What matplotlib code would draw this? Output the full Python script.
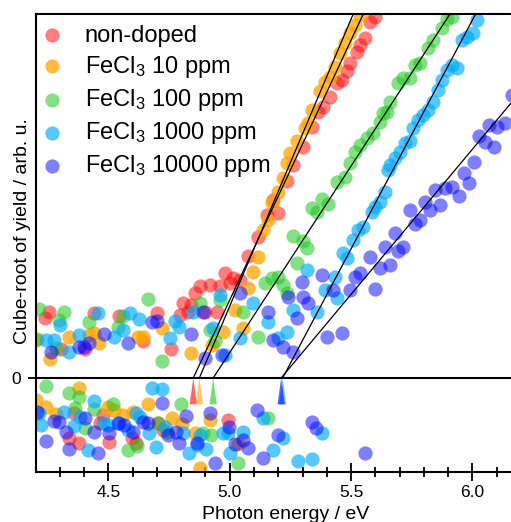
import matplotlib
matplotlib.use('Agg')
import matplotlib.pyplot as plt
from matplotlib.ticker import MultipleLocator

plt.rcParams['font.family'] = ['Liberation Sans', 'DejaVu Sans']
plt.rcParams['mathtext.fontset'] = 'custom'
plt.rcParams['mathtext.rm'] = 'Liberation Sans'
plt.rcParams['mathtext.it'] = 'Liberation Sans:italic'

# (photon energy / eV, cube-root of yield)
red_pts = [(4.240, 0.66), (4.256, 0.73), (4.305, 0.32), (4.338, -0.66), (4.359, -0.38),
           (4.379, -0.71), (4.404, 0.32), (4.442, 0.71), (4.466, -0.49), (4.478, -0.41),
           (4.503, -0.70), (4.545, 0.68), (4.598, -0.66), (4.614, -0.71), (4.643, 0.41),
           (4.701, 0.71), (4.705, -0.49), (4.726, -0.57), (4.759, 0.32), (4.795, 0.69),
           (4.808, 0.82), (4.829, 0.73), (4.840, 0.80), (4.857, 0.93), (4.878, 1.01),
           (4.898, 0.73), (4.919, 1.02), (4.948, 0.73), (4.960, 1.01), (4.981, 1.15),
           (4.994, -0.46), (5.000, 1.04), (5.014, 1.10), (5.043, 1.08), (5.077, 1.34),
           (5.117, 1.55), (5.154, 1.79), (5.178, 1.96), (5.199, 1.81), (5.236, 2.16),
           (5.261, 2.34), (5.302, 2.54), (5.339, 2.76), (5.364, 2.92), (5.385, 2.98),
           (5.413, 3.09), (5.442, 3.24), (5.463, 3.27), (5.484, 3.37), (5.496, 3.46),
           (5.525, 3.58), (5.537, 3.66), (5.558, 3.74), (5.578, 3.91), (5.599, 3.97)]

orange_pts = [(4.202, 0.42), (4.204, -0.24), (4.243, -0.32), (4.260, 0.21), (4.284, -0.40),
              (4.338, 0.45), (4.379, -0.11), (4.420, 0.47), (4.441, 0.49), (4.462, 0.38),
              (4.500, -0.32), (4.524, -0.35), (4.561, -0.41), (4.602, -0.37), (4.623, 0.45),
              (4.643, 0.45), (4.664, -0.29), (4.722, 0.55), (4.763, -0.44), (4.804, -0.51),
              (4.841, 0.27), (4.857, -0.60), (4.878, -0.99), (4.919, -0.46), (4.927, 0.36),
              (4.972, 0.51), (5.021, 0.75), (5.035, -0.73), (5.054, 0.55), (5.075, 0.99),
              (5.096, 1.16), (5.117, 1.33), (5.137, 1.63), (5.158, 1.74), (5.174, 1.92),
              (5.199, 2.04), (5.219, 2.20), (5.236, 2.36), (5.248, 2.47), (5.277, 2.60),
              (5.310, 2.75), (5.322, 2.80), (5.339, 2.95), (5.372, 3.15), (5.392, 3.25),
              (5.413, 3.31), (5.434, 3.42), (5.454, 3.57), (5.475, 3.68), (5.496, 3.79),
              (5.517, 3.88), (5.537, 3.99)]

green_pts = [(4.205, 0.43), (4.214, 0.76), (4.243, -0.09), (4.285, 0.33), (4.297, 0.64),
             (4.317, 0.73), (4.338, -0.16), (4.363, -0.33), (4.379, -0.21), (4.404, -0.55),
             (4.420, 0.62), (4.441, -0.34), (4.520, -0.29), (4.540, 0.56), (4.561, 0.68),
             (4.582, -0.79), (4.619, -0.75), (4.664, 0.87), (4.705, -0.49), (4.722, 0.19),
             (4.742, -0.59), (4.800, -0.29), (4.878, 0.82), (4.891, -0.60), (4.919, 0.53),
             (4.921, -0.63), (4.940, 0.41), (4.960, 0.86), (5.035, -0.93), (5.054, 0.73),
             (5.116, 0.45), (5.145, 1.04), (5.158, -0.44), (5.174, 1.10), (5.199, 1.11),
             (5.220, 1.02), (5.236, 0.93), (5.261, 1.56), (5.277, 1.26), (5.302, 1.51),
             (5.318, 1.43), (5.339, 1.87), (5.360, 1.82), (5.380, 1.97), (5.405, 1.91),
             (5.442, 2.15), (5.475, 2.21), (5.496, 2.36), (5.517, 2.48), (5.537, 2.56),
             (5.566, 2.64), (5.591, 2.69), (5.620, 2.81), (5.632, 2.91), (5.648, 2.92),
             (5.661, 3.03), (5.694, 3.24), (5.715, 3.30), (5.743, 3.30), (5.764, 3.44),
             (5.784, 3.46), (5.817, 3.63), (5.838, 3.71), (5.875, 3.85), (5.896, 3.95),
             (5.917, 3.97)]

blue_pts = [(4.214, -0.38), (4.222, -0.52), (4.243, 0.42), (4.276, 0.42), (4.300, 0.58),
            (4.317, -0.37), (4.338, 0.29), (4.359, -0.53), (4.379, 0.47), (4.383, -0.43),
            (4.417, -0.79), (4.441, -0.25), (4.458, 0.71), (4.478, -0.49), (4.499, -0.52),
            (4.524, 0.45), (4.545, -0.49), (4.561, 0.53), (4.582, -0.57), (4.590, 0.71),
            (4.615, -0.38), (4.627, 0.65), (4.630, -0.43), (4.668, -0.60), (4.681, -0.11),
            (4.697, -0.76), (4.722, -0.12), (4.734, -0.54), (4.754, 0.44), (4.775, 0.63),
            (4.791, 0.56), (4.808, -0.60), (4.833, -0.82), (4.849, 0.73), (4.866, -0.74),
            (4.878, -0.63), (4.903, -0.78), (4.931, 0.55), (4.960, 0.91), (4.973, -0.60),
            (4.981, 0.25), (4.993, -0.60), (5.000, -0.82), (5.043, 0.44), (5.056, -0.59),
            (5.096, 0.82), (5.137, -0.44), (5.158, 0.62), (5.179, -0.79), (5.199, 0.44),
            (5.220, -0.66), (5.236, 0.51), (5.261, 0.75), (5.281, -0.91), (5.318, 1.19),
            (5.339, -0.89), (5.359, 0.73), (5.380, -0.60), (5.392, 0.97), (5.434, 1.11),
            (5.442, 0.88), (5.467, 1.37), (5.484, 1.32), (5.508, 1.52), (5.529, 1.63),
            (5.550, 1.66), (5.587, 1.82), (5.599, 1.88), (5.620, 1.93), (5.641, 2.04),
            (5.653, 2.29), (5.661, 2.34), (5.682, 2.42), (5.702, 2.48), (5.723, 2.58),
            (5.743, 2.60), (5.756, 2.75), (5.776, 2.84), (5.797, 2.89), (5.817, 2.95),
            (5.838, 3.03), (5.859, 3.16), (5.876, 3.27), (5.896, 3.38), (5.917, 3.44),
            (5.938, 3.41), (5.958, 3.71), (5.979, 3.75), (6.004, 3.79), (6.020, 3.93)]

purple_pts = [(4.206, -0.37), (4.243, -0.69), (4.264, 0.29), (4.276, -0.47), (4.297, -0.48),
              (4.326, -0.59), (4.338, -0.78), (4.379, 0.34), (4.400, 0.34), (4.402, -0.44),
              (4.420, 0.38), (4.441, -0.59), (4.458, -0.82), (4.483, 0.48), (4.503, -0.60),
              (4.540, -0.49), (4.565, -0.52), (4.582, 0.38), (4.602, -0.59), (4.643, -0.48),
              (4.665, -0.50), (4.681, 0.62), (4.701, 0.63), (4.722, -0.27), (4.746, -0.63),
              (4.779, -0.59), (4.791, -0.71), (4.820, -0.42), (4.841, 0.48), (4.866, -0.71),
              (4.890, 0.73), (4.898, 0.22), (4.919, -0.38), (4.940, -0.93), (4.968, 0.25),
              (4.998, -0.54), (5.023, -0.73), (5.043, 0.93), (5.056, -0.68), (5.077, -0.77),
              (5.114, -0.35), (5.137, -0.88), (5.158, 0.73), (5.179, 0.42), (5.199, -0.63),
              (5.220, 0.34), (5.240, 0.89), (5.261, 0.29), (5.277, 0.66), (5.298, 1.05),
              (5.302, 0.89), (5.323, 0.82), (5.339, -0.48), (5.355, -0.55), (5.380, 1.13),
              (5.401, 0.45), (5.425, 0.97), (5.463, 0.49), (5.496, 0.97), (5.517, 1.11),
              (5.537, 1.15), (5.558, -0.82), (5.579, 1.33), (5.599, 0.98), (5.620, 1.21),
              (5.641, 1.44), (5.661, 1.24), (5.682, 1.59), (5.694, 1.40), (5.715, 1.44),
              (5.743, 1.85), (5.764, 1.69), (5.784, 1.74), (5.805, 1.93), (5.825, 1.85),
              (5.846, 2.07), (5.866, 1.90), (5.887, 2.09), (5.915, 2.10), (5.944, 2.00),
              (5.964, 2.25), (5.985, 2.14), (6.006, 2.37), (6.026, 2.66), (6.051, 2.59),
              (6.067, 2.78), (6.088, 2.54), (6.100, 2.76), (6.133, 2.80), (6.162, 3.11)]

labels = ['non-doped', 'FeCl$_3$ 10 ppm', 'FeCl$_3$ 100 ppm',
          'FeCl$_3$ 1000 ppm', 'FeCl$_3$ 10000 ppm']
colors = ['#ff0000', '#ffa500', '#1ec81e', '#00aaff', '#0000ff']
alphas = [0.5, 0.75, 0.55, 0.65, 0.5]
series = [red_pts, orange_pts, green_pts, blue_pts, purple_pts]

# linear fits: threshold energy (eV) and slope
thresholds = [4.850, 4.875, 4.932, 5.218, 5.212]
slopes = [5.71, 6.31, 4.10, 5.03, 3.19]

fig = plt.figure(figsize=(5.11, 5.22), dpi=100)
ax = fig.add_axes([36 / 511, 50 / 522, 500 / 511, 458 / 522])

for pts, lab, c, a in zip(series, labels, colors, alphas):
    e = [p[0] for p in pts]
    y = [p[1] for p in pts]
    ax.scatter(e, y, s=105, color=c, alpha=a, linewidths=0, label=lab, zorder=2)

for e0, k, c in zip(thresholds, slopes, colors):
    ax.plot([e0, e0 + 4.3 / k], [0, 4.3], color='black', lw=0.9, zorder=3)
    hw = 0.015
    ax.fill([e0 - hw, e0, e0 + hw], [-0.29, 0, -0.29], color=c, alpha=0.6, lw=0, zorder=3)

ax.axhline(0, color='black', lw=1.5, zorder=4)

ax.set_xlim(4.202, 6.262)
ax.set_ylim(-1.033, 4.0)

for side in ['left', 'bottom', 'top']:
    ax.spines[side].set_linewidth(1.5)
ax.spines['right'].set_visible(False)

ax.xaxis.set_major_locator(MultipleLocator(0.5))
ax.xaxis.set_minor_locator(MultipleLocator(0.1))
ax.xaxis.set_major_formatter(plt.FormatStrFormatter('%.1f'))
ax.tick_params(axis='x', which='major', direction='inout', length=13, width=1.3,
               labelsize=12.5, pad=3)
ax.tick_params(axis='x', which='minor', direction='inout', length=6.5, width=1.3)
ax.set_yticks([0])
ax.set_yticklabels(['0'])
ax.tick_params(axis='y', which='major', direction='inout', length=12, width=1.3,
               labelsize=12.5, pad=4.5)

fig.text(286 / 511, 1 - 519 / 522, 'Photon energy / eV', ha='center', va='baseline',
         fontsize=14)
fig.text(26.7 / 511, 1 - 231 / 522, 'Cube-root of yield / arb. u.', rotation=90,
         rotation_mode='anchor', ha='center', va='baseline', fontsize=14)

ax.legend(loc='upper left', bbox_to_anchor=(0.008, 0.977), frameon=False, fontsize=17,
          borderpad=0, borderaxespad=0, handlelength=1.0, handletextpad=0.9,
          labelspacing=0.3, scatterpoints=1)

fig.savefig('out.png', dpi=100)
